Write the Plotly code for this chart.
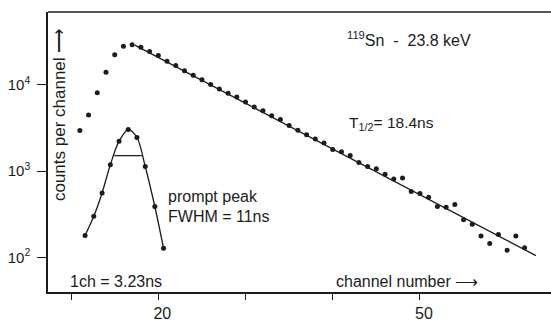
import plotly.graph_objects as go

# ---- data ----
channels = [11, 12, 13, 14, 15, 16, 17, 18, 19, 20,
            21, 22, 23, 24, 25, 26, 27, 28, 29, 30,
            31, 32, 33, 34, 35, 36, 37, 38, 39, 40,
            41, 42, 43, 44, 45, 46, 47, 48, 49, 50,
            51, 52, 53, 54, 55, 56, 57, 58, 59, 60,
            61, 62]
counts = [2960, 4500, 8100, 14000, 22400, 28100, 29200, 27400, 24500, 22000,
          18800, 16800, 14600, 13000, 11500, 10100, 9000, 8040, 7240, 6340,
          5560, 5040, 4390, 3980, 3400, 2980, 2650, 2370, 2130, 1790,
          1680, 1520, 1260, 1135, 1070, 920, 815, 835, 583, 553,
          500, 390, 383, 411, 274, 243, 178, 145, 185, 121,
          178, 130]

prompt_channels = [11.6, 12.6, 13.55, 14.5, 15.5, 16.55, 17.55, 18.5, 19.6, 20.6]
prompt_counts = [180, 300, 560, 1190, 2230, 3040, 2460, 1135, 390, 128]

fit_channels = [17.3, 63.3]
fit_counts = [29000, 105]

fwhm_channels = [14.95, 18.1]
fwhm_counts = [1517, 1517]

x_tick_vals = [10, 20, 30, 40, 50]
x_tick_text = ["", "20", "", "", "50"]
y_tick_vals = [100, 1000, 10000]
y_tick_text = ["10<sup>2</sup>", "10<sup>3</sup>", "10<sup>4</sup>"]

ink = "#1c1c1c"
font_family = "Liberation Sans, Arial, sans-serif"

fig = go.Figure()

# prompt peak curve with points
fig.add_trace(go.Scatter(
    x=prompt_channels, y=prompt_counts, mode="lines+markers",
    line=dict(color=ink, width=1.3, shape="spline", smoothing=0.9),
    marker=dict(color=ink, size=5), showlegend=False))

# FWHM bar
fig.add_trace(go.Scatter(
    x=fwhm_channels, y=fwhm_counts, mode="lines",
    line=dict(color=ink, width=1.3), showlegend=False))

# decay fit line
fig.add_trace(go.Scatter(
    x=fit_channels, y=fit_counts, mode="lines",
    line=dict(color=ink, width=1.3), showlegend=False))

# measured spectrum
fig.add_trace(go.Scatter(
    x=channels, y=counts, mode="markers",
    marker=dict(color=ink, size=5), showlegend=False))


def note(text, x, y, xanchor="left", angle=0, size=16):
    fig.add_annotation(text=text, x=x, y=y, xref="x", yref="y",
                       xanchor=xanchor, yanchor="middle", showarrow=False,
                       textangle=angle,
                       font=dict(family=font_family, size=size, color=ink))


note("<sup>119</sup>Sn  -  23.8 keV", 41.4, 4.53)
note("T<sub>1/2</sub>= 18.4ns", 41.6, 3.55, size=15.5)
note("prompt peak", 20.85, 2.71)
note("FWHM = 11ns", 20.85, 2.48)
note("1ch = 3.23ns", 9.6, 1.726)
note("channel number \u27f6", 40.2, 1.725)
note("counts per channel \u27f6", 8.6, 3.65, xanchor="center", angle=-90, size=17)

# top edge of the open frame (the frame has no right side)
fig.add_shape(type="line", xref="paper", yref="paper", x0=0, x1=1, y0=1, y1=1,
              line=dict(color=ink, width=1.5))

fig.update_layout(
    width=560, height=322,
    margin=dict(l=48, r=0, t=12, b=26),
    paper_bgcolor="white", plot_bgcolor="white",
    font=dict(family=font_family, size=16, color=ink),
    xaxis=dict(range=[7.35, 66.06], showgrid=False, zeroline=False,
               showline=True, mirror=False, linecolor=ink, linewidth=1.5,
               ticks="outside", ticklen=6, tickwidth=1.3, tickcolor=ink,
               tickvals=x_tick_vals, ticktext=x_tick_text,
               ticklabelshift=4, ticklabelstandoff=0),
    yaxis=dict(type="log", range=[1.6, 4.846], showgrid=False, zeroline=False,
               showline=True, mirror=False, linecolor=ink, linewidth=1.5,
               ticks="outside", ticklen=9, tickwidth=1.3, tickcolor=ink,
               tickvals=y_tick_vals, ticktext=y_tick_text,
               ticklabelstandoff=4, tickfont=dict(size=15)),
)

fig.write_html("out.html",
               config={"displayModeBar": False},
               post_script=("document.documentElement.style.overflow='hidden';"
                            "document.body.style.margin='0';"
                            "document.body.style.overflow='hidden';"))
